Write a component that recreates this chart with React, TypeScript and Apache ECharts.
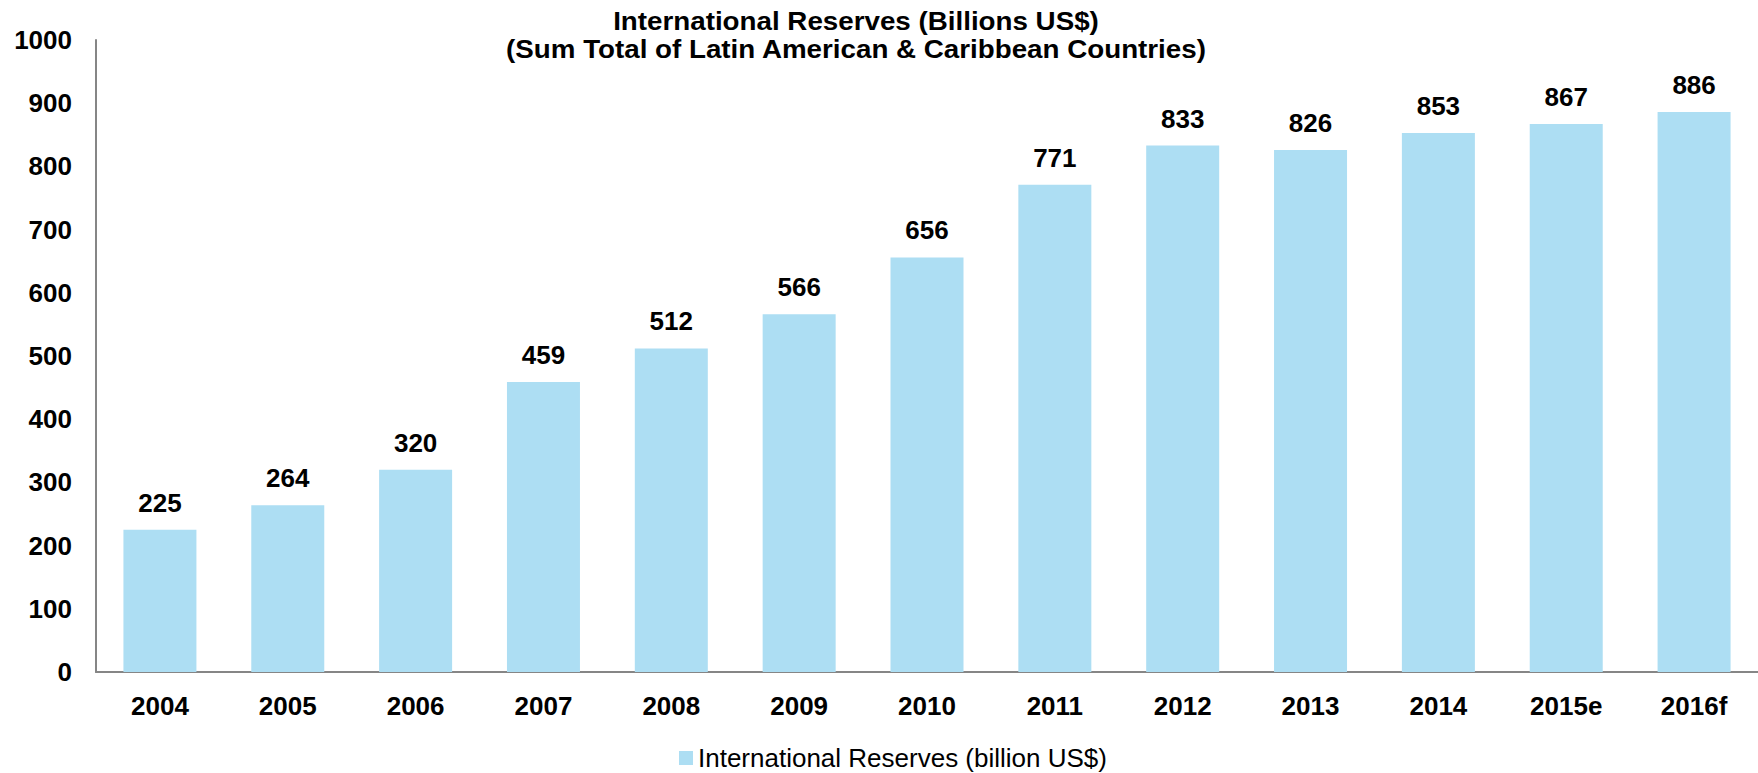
import React, { useEffect, useRef } from "react";
import * as echarts from "echarts";

const categories = ["2004", "2005", "2006", "2007", "2008", "2009", "2010", "2011", "2012", "2013", "2014", "2015e", "2016f"];
const reserves = [225, 264, 320, 459, 512, 566, 656, 771, 833, 826, 853, 867, 886];
const seriesName = "International Reserves (billion US$)";
const titleLines = ["International Reserves (Billions US$)", "(Sum Total of Latin American & Caribbean Countries)"];

const FONT = "'Liberation Sans', Arial, Helvetica, sans-serif";

export default function App() {
  const ref = useRef<HTMLDivElement>(null);
  useEffect(() => {
    document.body.style.margin = "0";
    if (!ref.current) return;
    const chart = echarts.init(ref.current, null, { renderer: "svg" });
    chart.setOption({
      animation: false,
      backgroundColor: "#ffffff",
      textStyle: { fontFamily: FONT },
      graphic: [
        {
          type: "text",
          x: 856,
          y: 7,
          scaleX: 1.11,
          style: {
            text: titleLines.join("\n"),
            font: `bold 25px ${FONT}`,
            fill: "#000000",
            align: "center",
            verticalAlign: "top",
            lineHeight: 28.5,
          },
        },
      ],
      legend: {
        data: [seriesName],
        left: 679,
        top: 745,
        padding: 0,
        itemWidth: 14,
        itemHeight: 14,
        icon: "rect",
        textStyle: { fontFamily: FONT, fontSize: 26, color: "#000000" },
      },
      grid: { left: 96, right: -2, top: 40, bottom: 101, containLabel: false },
      xAxis: {
        type: "category",
        data: categories,
        axisLine: { show: true, lineStyle: { color: "#868686", width: 2 } },
        axisTick: { show: false },
        axisLabel: {
          fontFamily: FONT,
          fontSize: 26,
          fontWeight: "bold",
          color: "#000000",
          margin: 21,
          interval: 0,
        },
      },
      yAxis: {
        type: "value",
        min: 0,
        max: 1000,
        interval: 100,
        axisLine: { show: true, lineStyle: { color: "#868686", width: 2 } },
        axisTick: { show: false },
        splitLine: { show: false },
        axisLabel: {
          fontFamily: FONT,
          fontSize: 26,
          fontWeight: "bold",
          color: "#000000",
          margin: 24,
          formatter: (v: number) => String(v),
        },
      },
      series: [
        {
          name: seriesName,
          type: "bar",
          data: reserves,
          barWidth: 73,
          itemStyle: { color: "#ADDEF3" },
          label: {
            show: true,
            position: "top",
            distance: 14,
            fontFamily: FONT,
            fontSize: 26,
            fontWeight: "bold",
            color: "#000000",
          },
        },
      ],
    });
    return () => chart.dispose();
  }, []);
  return <div ref={ref} style={{ width: 1758, height: 773 }} />;
}
